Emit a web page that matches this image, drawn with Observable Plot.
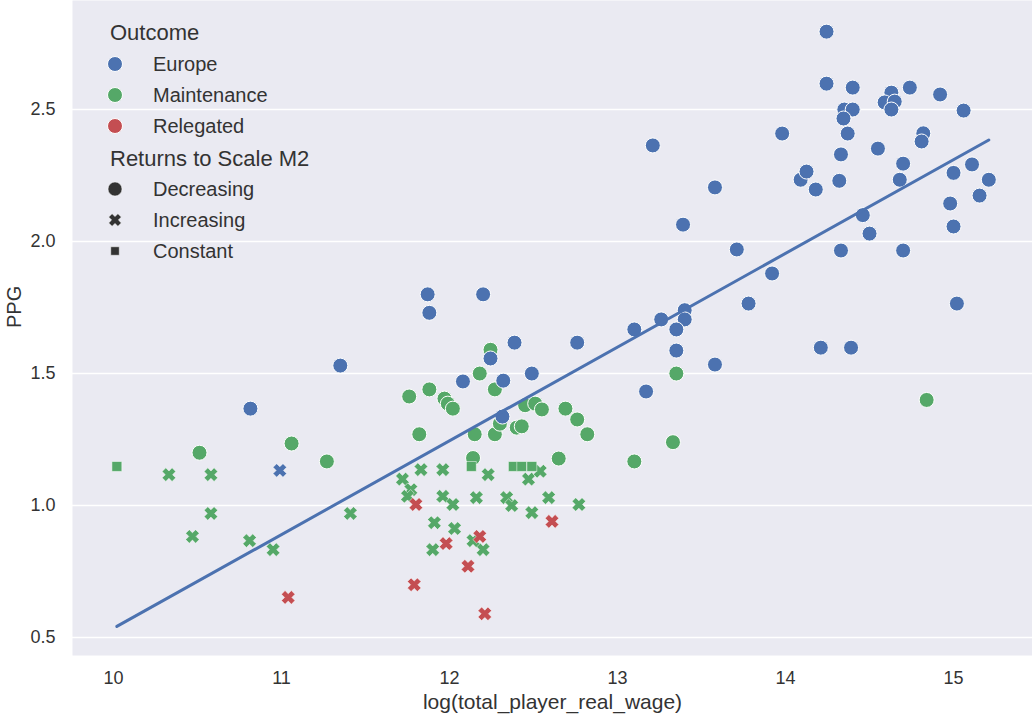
<!DOCTYPE html>
<html><head><meta charset="utf-8">
<script src="https://cdn.jsdelivr.net/npm/d3@7"></script>
<script src="https://cdn.jsdelivr.net/npm/@observablehq/plot@0.6"></script>
<style>
body{margin:0;background:#fff;font-family:"Liberation Sans",Arial,sans-serif;}
#wrap{position:relative;width:1032px;height:717px;}
#legend{position:absolute;left:0;top:0;}
</style></head><body><div id="wrap"></div>
<script>
// [log(total_player_real_wage), PPG]
const europeDecreasing = [
  [11.35,1.53],[10.815,1.367],[11.87,1.80],[11.88,1.73],[12.20,1.80],[12.387,1.617],[12.76,1.617],
  [12.244,1.557],[12.08,1.47],[12.32,1.473],[12.49,1.50],[12.315,1.337],[13.10,1.667],
  [14.244,2.795],[14.244,2.598],[14.40,2.583],[14.63,2.564],[14.59,2.527],[14.65,2.53],[14.63,2.50],
  [14.74,2.583],[14.92,2.557],[15.06,2.496],[14.35,2.50],[14.40,2.50],[14.345,2.466],[14.37,2.409],
  [13.98,2.409],[13.21,2.364],[14.82,2.41],[14.81,2.379],[14.33,2.33],[14.55,2.352],[14.70,2.295],
  [15.11,2.292],[15.0,2.26],[15.21,2.234],[14.09,2.234],[14.125,2.265],[14.18,2.197],[14.32,2.23],
  [14.68,2.234],[15.155,2.174],[14.98,2.144],[13.58,2.205],[14.46,2.10],[14.50,2.03],[15.0,2.057],
  [13.39,2.064],[14.33,1.966],[14.70,1.966],[13.71,1.97],[13.92,1.879],[13.78,1.765],[15.02,1.765],
  [13.26,1.705],[13.40,1.74],[13.40,1.705],[13.35,1.667],[13.35,1.587],[14.21,1.598],[14.39,1.598],
  [13.58,1.534],[13.17,1.432]
];
const europeIncreasing = [[10.99,1.133]];
const maintenanceDecreasing = [
  [10.512,1.20],[11.06,1.235],[11.27,1.167],[12.244,1.59],[12.18,1.50],[12.27,1.44],[11.76,1.413],
  [11.88,1.44],[11.97,1.405],[11.99,1.386],[12.02,1.367],[11.82,1.27],[12.15,1.27],[12.27,1.27],
  [12.30,1.31],[12.40,1.295],[12.43,1.30],[12.45,1.38],[12.51,1.386],[12.55,1.364],[12.69,1.367],
  [12.76,1.326],[12.82,1.27],[12.65,1.178],[13.10,1.167],[12.14,1.18],[13.33,1.24],[13.35,1.50],
  [14.84,1.40]
];
const maintenanceIncreasing = [
  [10.33,1.117],[10.58,1.117],[10.58,0.97],[10.47,0.883],[10.81,0.867],[10.95,0.833],[11.41,0.97],
  [11.83,1.136],[11.96,1.136],[12.23,1.117],[12.47,1.10],[11.72,1.10],[11.77,1.06],[11.75,1.035],
  [11.96,1.035],[12.02,1.004],[12.16,1.03],[12.34,1.03],[12.37,1.0],[12.59,1.03],[12.77,1.004],
  [12.49,0.973],[11.91,0.935],[12.03,0.913],[11.90,0.833],[12.20,0.833],[12.14,0.867],[12.54,1.13]
];
const maintenanceConstant = [[10.02,1.148],[12.13,1.148],[12.38,1.148],[12.43,1.148],[12.49,1.148]];
const relegatedIncreasing = [
  [11.04,0.652],[11.80,1.004],[11.98,0.856],[12.18,0.883],[12.61,0.94],[12.11,0.77],[11.79,0.70],[12.21,0.59]
];

const outcomes = ["Europe","Maintenance","Relegated"];
const outcomeColors = ["#4c72b0","#55a868","#c44e52"];
const rtsTypes = ["Decreasing","Increasing","Constant"];
const xTicks = [10,11,12,13,14,15];
const yTicks = [0.5,1.0,1.5,2.0,2.5];
const xLabel = "log(total_player_real_wage)";
const yLabel = "PPG";

const rows = (pairs, outcome, rts) => pairs.map(([x,y]) => ({wage:x, ppg:y, outcome, rts}));
const data = [
  ...rows(maintenanceDecreasing,"Maintenance","Decreasing"),
  ...rows(maintenanceIncreasing,"Maintenance","Increasing"),
  ...rows(maintenanceConstant,"Maintenance","Constant"),
  ...rows(europeDecreasing,"Europe","Decreasing"),
  ...rows(europeIncreasing,"Europe","Increasing"),
  ...rows(relegatedIncreasing,"Relegated","Increasing")
];

// filled "X" marker like matplotlib's 'X'
const filledX = {
  draw(ctx, size) {
    const r = Math.sqrt(size / Math.PI);
    const t = r * 0.38, e = r * Math.SQRT2 - t;
    const pts = [[-t,-e],[t,-e],[t,-t],[e,-t],[e,t],[t,t],[t,e],[-t,e],[-t,t],[-e,t],[-e,-t],[-t,-t]]
      .map(([x,y]) => [(x - y) / Math.SQRT2, (x + y) / Math.SQRT2]);
    ctx.moveTo(pts[0][0], pts[0][1]);
    for (let i = 1; i < pts.length; i++) ctx.lineTo(pts[i][0], pts[i][1]);
    ctx.closePath();
  }
};
const symbolFor = {Decreasing: "circle", Increasing: filledX, Constant: "square"};
const rFor = {Decreasing: 7.5, Increasing: 6.8, Constant: 5.6};

const textColor = "#333";
const font = '"Liberation Sans", Arial, sans-serif';
const chart = Plot.plot({
  width: 1032, height: 717,
  marginTop: 0, marginLeft: 72, marginRight: 0, marginBottom: 62,
  x: {domain: [9.756, 15.47]},
  y: {domain: [0.432, 2.913]},
  color: {domain: outcomes, range: outcomeColors},
  style: {fontFamily: font, background: "white", color: textColor},
  marks: [
    Plot.frame({fill: "#eaeaf2"}),
    Plot.gridY(yTicks, {stroke: "white", strokeOpacity: 1, strokeWidth: 1.6}),
    Plot.axisY(yTicks, {tickSize: 0, tickPadding: 17, fontSize: 18, tickFormat: d3.format(".1f"), label: null, fill: textColor}),
    Plot.axisX(xTicks, {tickSize: 0, tickPadding: 16, fontSize: 18, tickFormat: d3.format("d"), label: null, fill: textColor}),
    Plot.text([xLabel], {frameAnchor: "bottom", dy: 53, fontSize: 21, fill: textColor}),
    Plot.text([yLabel], {frameAnchor: "left", dx: -58, rotate: -90, fontSize: 20, fill: textColor}),
    ...["Maintenance","Europe","Relegated"].flatMap(o => rtsTypes.map(s => {
      const sub = data.filter(d => d.outcome === o && d.rts === s);
      return sub.length ? Plot.dot(sub, {x: "wage", y: "ppg", fill: "outcome", symbol: symbolFor[s], r: rFor[s], stroke: "white", strokeWidth: s === "Decreasing" ? 1 : 0.5}) : null;
    })).filter(Boolean),
    Plot.linearRegressionY(data, {x: "wage", y: "ppg", stroke: "#4c72b0", strokeWidth: 3, ci: 0})
  ]
});
const wrap = document.getElementById("wrap");
wrap.appendChild(chart);

// legend overlay
const ns = "http://www.w3.org/2000/svg";
const lg = document.createElementNS(ns, "svg");
lg.setAttribute("id", "legend");
lg.setAttribute("width", 330); lg.setAttribute("height", 280);
const sel = d3.select(lg);
function title(txt, y) {
  sel.append("text").attr("x", 110).attr("y", y).attr("dominant-baseline", "central")
    .attr("font-family", font).attr("font-size", 22).attr("fill", textColor).text(txt);
}
function label(txt, y) {
  sel.append("text").attr("x", 153).attr("y", y).attr("dominant-baseline", "central")
    .attr("font-family", font).attr("font-size", 20).attr("fill", textColor).text(txt);
}
title("Outcome", 32);
outcomes.forEach((o, i) => {
  const y = 64 + i * 31;
  sel.append("circle").attr("cx", 115).attr("cy", y).attr("r", 7.5).attr("fill", outcomeColors[i]).attr("stroke", "white");
  label(o, y);
});
title("Returns to Scale M2", 158);
rtsTypes.forEach((s, i) => {
  const y = 189 + i * 31;
  const sym = s === "Decreasing" ? d3.symbolCircle : s === "Increasing" ? filledX : d3.symbolSquare;
  const r = s === "Decreasing" ? 7 : s === "Increasing" ? 6.3 : 4.8;
  sel.append("path").attr("transform", `translate(115,${y})`)
    .attr("d", d3.symbol(sym, Math.PI * r * r)()).attr("fill", "#333").attr("stroke", "white").attr("stroke-width", 0.5);
  label(s, y);
});
wrap.appendChild(lg);
</script></body></html>
